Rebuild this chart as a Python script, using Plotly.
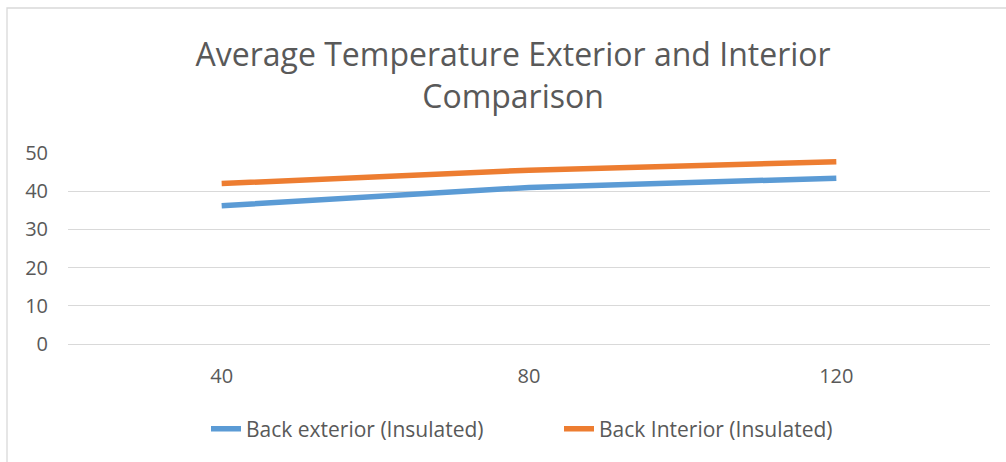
import plotly.graph_objects as go

categories = ["40", "80", "120"]
back_exterior = [36.2, 41.0, 43.4]
back_interior = [42.0, 45.5, 47.7]
series_names = ["Back exterior (Insulated)", "Back Interior (Insulated)"]
title_text = "Average Temperature Exterior and Interior<br>Comparison"
y_ticks = [0, 10, 20, 30, 40, 50]

W, H = 1006, 462
L, R, T, B = 68, 16, 153, 118

fig = go.Figure()
fig.add_trace(go.Scatter(x=categories, y=back_exterior, mode="lines", name=series_names[0],
                         line=dict(color="#5B9BD5", width=5.5)))
fig.add_trace(go.Scatter(x=categories, y=back_interior, mode="lines", name=series_names[1],
                         line=dict(color="#ED7D31", width=5.5)))

pw = W - L - R
ph = H - T - B
def px_x(p):
    return (p - L) / pw
def px_y(p):
    return (H - B - p) / ph

fig.add_shape(type="rect", xref="paper", yref="paper",
              x0=px_x(7), x1=px_x(W + 20), y0=px_y(H + 20), y1=px_y(8),
              line=dict(color="#D9D9D9", width=1.3), fillcolor="rgba(0,0,0,0)", layer="below")

fig.update_layout(
    width=W, height=H,
    margin=dict(l=L, r=R, t=T, b=B),
    paper_bgcolor="white", plot_bgcolor="white",
    font=dict(family="Open Sans", color="#595959"),
    title=dict(text=title_text, x=0.51, xanchor="center", yref="container", y=1 - 66 / H, yanchor="top",
               font=dict(size=32, color="#595959", family="Open Sans")),
    showlegend=True,
    legend=dict(orientation="h", x=px_x(206), xanchor="left", y=px_y(429), yanchor="middle",
                font=dict(size=21, color="#595959"), itemwidth=30, entrywidth=308,
                entrywidthmode="pixels", tracegroupgap=0),
    xaxis=dict(type="category", range=[-0.5, 2.5], showgrid=False, showline=False,
               zeroline=False, ticks="", tickfont=dict(size=20), ticklabelstandoff=18),
    yaxis=dict(range=[0, 50], tickvals=y_ticks, showgrid=True, gridcolor="#D9D9D9", gridwidth=1.3,
               zeroline=True, zerolinecolor="#D9D9D9", zerolinewidth=1.3, showline=False,
               ticks="", tickfont=dict(size=20), ticklabelstandoff=19),
)

fig.write_html("out.html", config={"displayModeBar": False},
               post_script="document.body.style.margin='0px';")
